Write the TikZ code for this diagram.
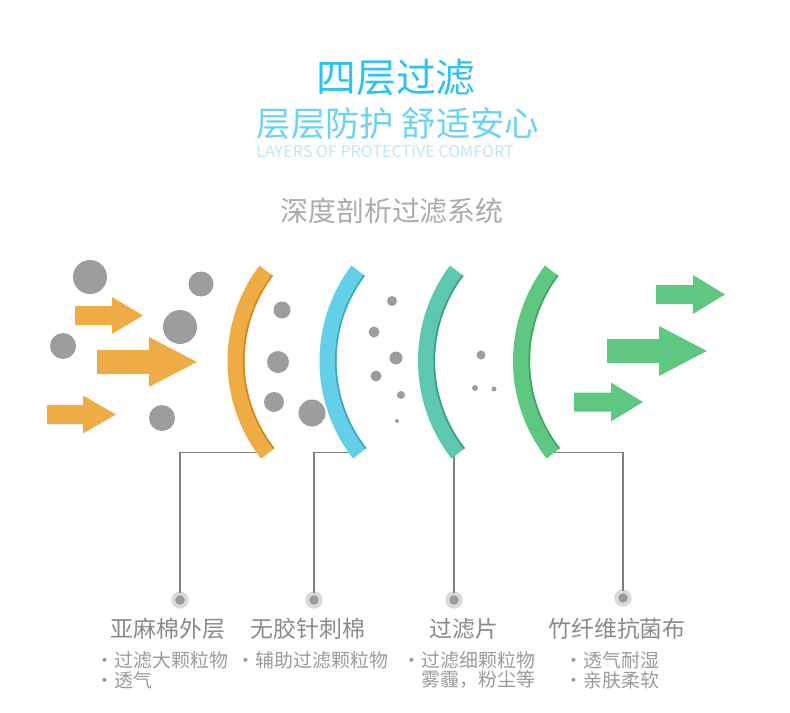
\documentclass[tikz,border=0pt]{standalone}
\usepackage{fontspec}
\newfontfamily\cjk{Noto Sans CJK SC}
\usetikzlibrary{positioning, calc}

\definecolor{titleblue}{HTML}{2CC2F1}
\definecolor{subblue}{HTML}{6DD3F5}
\definecolor{engblue}{HTML}{BFE6F6}
\definecolor{sysgray}{HTML}{ABABAB}
\definecolor{labelgray}{HTML}{8A8A8A}
\definecolor{bulletgray}{HTML}{9A9A9A}
\definecolor{particlegray}{HTML}{9D9D9F}
\definecolor{leadergray}{HTML}{808080}
\definecolor{pingray}{HTML}{9B9B9B}
\definecolor{pinring}{HTML}{DADADA}
\definecolor{layerorange}{HTML}{F0AC44}
\definecolor{orangeedge}{HTML}{D4861A}
\definecolor{layerblue}{HTML}{64D0E7}
\definecolor{blueedge}{HTML}{36A8C2}
\definecolor{layerteal}{HTML}{5CC8B0}
\definecolor{tealedge}{HTML}{3A9D87}
\definecolor{layergreen}{HTML}{5EC883}
\definecolor{greenedge}{HTML}{3DA662}

\newcommand{\dotitem}{•\kern1bp}

\begin{document}
\begin{tikzpicture}[x=1bp, y=-1bp,
    every node/.style={inner sep=0pt, outer sep=0pt},
    heading/.style={font=\cjk\fontsize{#1}{#1}\selectfont},
    label/.style={font=\cjk\fontsize{23}{26}\selectfont, text=labelgray},
    bullets/.style={font=\cjk\fontsize{19}{20}\selectfont, text=bulletgray,
                    align=left, anchor=west},
    particle/.style={fill=particlegray},
    leader/.style={draw=leadergray, line width=1.3bp},
    pin/.style={circle, fill=pingray, draw=pinring, line width=4bp,
                minimum size=13.4bp},
]
\useasboundingbox (0,0) rectangle (790,713);

% Headings
\node[heading=40, text=titleblue] (title) at (396,78) {四层过滤};
\node[heading=34.5, text=subblue] (sub) at (398,124) {层层防护 舒适安心};
\node[font=\cjk\fontsize{16.2}{16}\selectfont, text=engblue] (eng) at (385,152)
    {LAYERS OF PROTECTIVE COMFORT};
\node[heading=28, text=sysgray] (sys) at (392,211) {深度剖析过滤系统};

% Air flow arrows
\foreach \xa/\yc/\xb/\xt/\sh/\hh/\col in {
    75/315.5/112/143/9.5/18.5/layerorange,
    97/362/149/197/12/25/layerorange,
    47/414.5/83/116/9.5/19/layerorange,
    656/294.5/693/725/9.5/19.5/layergreen,
    607/351/659/707/12/25/layergreen,
    574/402/611/643/9.5/19.5/layergreen}
  \fill[\col] (\xa,\yc-\sh) -- (\xb,\yc-\sh) -- (\xb,\yc-\hh) -- (\xt,\yc)
      -- (\xb,\yc+\hh) -- (\xb,\yc+\sh) -- (\xa,\yc+\sh) -- cycle;

% Particles
\foreach \x/\y/\r in {90/277/17, 201/284/12.5, 180/327/17, 63/346/13,
    162/418/13, 282/310/8.5, 278/362/11, 274/402/10, 312/413/13.5,
    392/301/5, 374/332/5.5, 396/358/6.5, 376/376/5.5, 401/395/4,
    397/421/2, 481/355/4.5, 475/388/3, 494/389/2.5}
  \fill[particle] (\x,\y) circle (\r);

% Pins and leaders
\node[pin] (d1) at (180,600) {};
\node[pin] (d2) at (314,600) {};
\node[pin] (d3) at (454,600) {};
\node[pin] (d4) at (623,598) {};

\coordinate (e1) at ($(386,360)+(142:150)$);
\coordinate (e2) at ($(478,360)+(142:150)$);
\coordinate (e3) at ($(576.5,360)+(142:150)$);
\coordinate (e4) at ($(671.5,360)+(142:150)$);

\draw[leader] (e1) -| (d1);
\draw[leader] (e2) -| (d2);
\draw[leader] (e3) -| (d3);
\draw[leader] (e4) -| (d4);

% Filter layers
\foreach \cx/\fillc/\edgec in {386/layerorange/orangeedge,
    478/layerblue/blueedge, 576.5/layerteal/tealedge,
    671.5/layergreen/greenedge}{
  \fill[\fillc] (\cx,361) ++(142:158.5)
      arc[start angle=142, end angle=217, radius=158.5] -- ++(37:17)
      arc[start angle=217, end angle=142, radius=141.5] -- cycle;
  \draw[\edgec, line width=1.6bp] (\cx,361) ++(142:142.3)
      arc[start angle=142, end angle=217, radius=142.3];
}

% Layer labels
\node[label] (l1) at (168,629) {亚麻棉外层};
\node[label] (l2) at (308,629) {无胶针刺棉};
\node[label] (l3) at (464,629) {过滤片};
\node[label] (l4) at (617,629) {竹纤维抗菌布};

\node[bullets] (b1) at (95,670) {\dotitem 过滤大颗粒物\\\dotitem 透气};
\node[bullets] (b2) at (236,660) {•\kern1bp 辅助过滤颗粒物};
\node[bullets] (b3) at (402,670)
    {\dotitem 过滤细颗粒物\\\phantom{•}\kern1bp 雾霾，粉尘等};
\node[bullets] (b4) at (564,670) {\dotitem 透气耐湿\\\dotitem 亲肤柔软};

\end{tikzpicture}
\end{document}
